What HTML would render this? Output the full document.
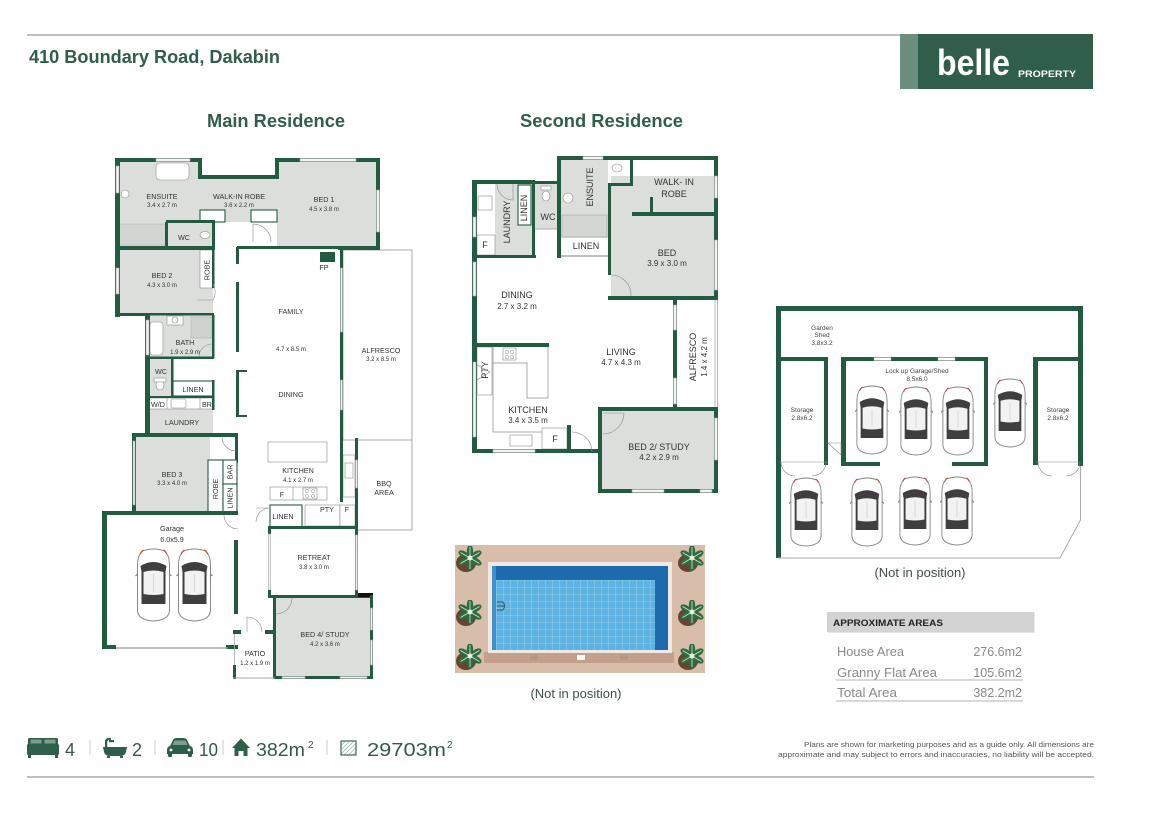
<!DOCTYPE html>
<html><head><meta charset="utf-8">
<style>
html,body{margin:0;padding:0;background:#fff;}
svg{display:block;}
text{font-family:"Liberation Sans",Arial,sans-serif;}
.w{fill:#235b41}
.g{fill:#dcdedc}
.win{fill:#f3f3f3;stroke:#a5a5a5;stroke-width:.6}
.thin{fill:none;stroke:#9a9a9a;stroke-width:.8}
.box{fill:#fff;stroke:#235b41;stroke-width:1.1}
.fx{fill:#fff;stroke:#8c8c8c;stroke-width:.6}
.lb{font-size:7.2px;fill:#333;text-anchor:middle}
.dm{font-size:6px;fill:#333;text-anchor:middle}
.lb2{font-size:9px;fill:#333;text-anchor:middle}
.dm2{font-size:8px;fill:#333;text-anchor:middle}
.pk{font-size:6.5px;fill:#444;text-anchor:middle}
.door{fill:none;stroke:#8a8a8a;stroke-width:.6}
</style></head><body>
<svg width="1151" height="814" viewBox="0 0 1151 814" xmlns="http://www.w3.org/2000/svg">
<defs>
<symbol id="car" viewBox="0 0 36 74">
<path d="M7 3 Q18 -1 29 3 Q34 7 34 18 L34 62 Q34 72 18 73 Q2 72 2 62 L2 18 Q2 7 7 3Z" fill="#fff" stroke="#8a8a8a" stroke-width="1"/>
<path d="M5 18 Q18 10 31 18 L30 24 L30 56 L6 56 L6 24 Z" fill="#3f3f3f"/>
<path d="M8 24 Q18 21 28 24 L28 46 Q18 48 8 46 Z" fill="#f2f2f2"/>
<path d="M8 2 Q6 3 5 6" stroke="#c33" stroke-width="1" fill="none"/>
<path d="M28 2 Q30 3 31 6" stroke="#c33" stroke-width="1" fill="none"/>
<path d="M2 26 L0 28 M34 26 L36 28" stroke="#777" stroke-width="1"/>
<line x1="18" y1="26" x2="18" y2="44" stroke="#bbb" stroke-width=".5"/>
</symbol>
<symbol id="plant" viewBox="0 0 28 28">
<ellipse cx="11" cy="17" rx="10" ry="9" fill="#6a4330"/>
<g fill="#2f6b40">
<ellipse cx="15" cy="5" rx="3.2" ry="6"/>
<ellipse cx="15" cy="5" rx="3.2" ry="6" transform="rotate(60 15 12)"/>
<ellipse cx="15" cy="5" rx="3.2" ry="6" transform="rotate(120 15 12)"/>
<ellipse cx="15" cy="5" rx="3.2" ry="6" transform="rotate(180 15 12)"/>
<ellipse cx="15" cy="5" rx="3.2" ry="6" transform="rotate(240 15 12)"/>
<ellipse cx="15" cy="5" rx="3.2" ry="6" transform="rotate(300 15 12)"/>
</g>
<g stroke="#d6e6d3" stroke-width=".8">
<line x1="15" y1="12" x2="15" y2="1"/><line x1="15" y1="12" x2="24.5" y2="6.5"/><line x1="15" y1="12" x2="24.5" y2="17.5"/>
<line x1="15" y1="12" x2="15" y2="23"/><line x1="15" y1="12" x2="5.5" y2="17.5"/><line x1="15" y1="12" x2="5.5" y2="6.5"/>
</g>
<circle cx="15" cy="12" r="2.5" fill="#e6efe4"/>
</symbol>
<pattern id="tiles" width="7" height="7" patternUnits="userSpaceOnUse"><path d="M7 0V7H0" fill="none" stroke="#c4e6f6" stroke-width=".6"/></pattern>
<pattern id="hatch" width="3" height="3" patternUnits="userSpaceOnUse" patternTransform="rotate(45)"><line x1="0" y1="0" x2="0" y2="3" stroke="#7a9a8a" stroke-width="1"/></pattern>
</defs>

<!-- HEADER -->
<line x1="27" y1="35" x2="900" y2="35" stroke="#9a9a9a" stroke-width="1.2"/>
<text x="29" y="63" font-size="18" font-weight="bold" fill="#2f5e4a" textLength="251" lengthAdjust="spacingAndGlyphs">410 Boundary Road, Dakabin</text>
<rect x="900" y="34" width="193" height="55" fill="#2f5e4a"/>
<rect x="900" y="34" width="18" height="55" fill="#6c8f7d"/>
<text x="937" y="75" font-size="36" font-weight="bold" fill="#fff" textLength="73" lengthAdjust="spacingAndGlyphs">belle</text>
<text x="1018" y="77" font-size="9.5" font-weight="bold" fill="#fff" textLength="58" lengthAdjust="spacingAndGlyphs">PROPERTY</text>

<text x="207" y="127" font-size="18" font-weight="bold" fill="#2f5e4a" textLength="138" lengthAdjust="spacingAndGlyphs">Main Residence</text>
<text x="520" y="127" font-size="18" font-weight="bold" fill="#2f5e4a" textLength="163" lengthAdjust="spacingAndGlyphs">Second Residence</text>

<!-- ================= MAIN RESIDENCE ================= -->
<!-- outdoor areas -->
<rect x="343" y="250" width="69" height="190" fill="#fff" stroke="#aaa" stroke-width="1"/>
<rect x="357" y="440" width="55" height="90" fill="#fff" stroke="#aaa" stroke-width="1"/>
<!-- room fills -->
<rect class="g" x="117" y="160" width="83" height="62"/>
<rect class="g" x="117" y="222" width="96" height="26"/>
<rect class="g" x="200" y="178" width="77" height="44"/>
<rect class="g" x="277" y="160" width="101" height="88"/>
<rect class="g" x="117" y="248" width="96" height="67"/>
<rect class="g" x="147" y="315" width="66" height="43"/>
<rect class="g" x="147" y="358" width="25" height="39"/>
<rect class="g" x="147" y="408" width="66" height="27"/>
<rect class="g" x="135" y="436" width="75" height="77"/>
<rect class="g" x="275" y="597" width="97" height="81"/>
<!-- fixtures -->
<rect class="fx" x="156" y="163" width="33" height="17" rx="4"/>
<circle class="fx" cx="125" cy="194" r="4"/>
<rect x="118" y="224" width="48" height="21" fill="#d2d5d2" stroke="#aaa" stroke-width=".5"/>
<ellipse class="fx" cx="205" cy="235" rx="5" ry="3.5"/>
<rect class="fx" x="150" y="322" width="13" height="33" rx="3"/>
<rect class="fx" x="167" y="316" width="16" height="9"/>
<circle class="fx" cx="175" cy="320" r="3"/>
<rect x="191" y="317" width="21" height="21" fill="#cfd2cf" stroke="#aaa" stroke-width=".5"/>
<ellipse class="fx" cx="160" cy="385" rx="4" ry="5"/>
<rect class="fx" x="154" y="378" width="12" height="4"/>
<rect class="fx" x="200" y="250" width="13" height="38"/>
<rect class="box" x="200" y="210" width="25" height="12"/>
<rect class="box" x="251" y="210" width="26" height="12"/>
<rect class="fx" x="268" y="442" width="59" height="20"/>
<rect class="fx" x="343" y="455" width="12" height="42"/>
<rect class="fx" x="345" y="463" width="8" height="15"/>
<rect class="fx" x="270" y="487" width="57" height="13"/>
<line x1="293" y1="487" x2="293" y2="500" stroke="#8c8c8c" stroke-width=".6"/>
<rect class="fx" x="303" y="488" width="14" height="11"/>
<circle cx="307" cy="491" r="1.6" fill="none" stroke="#888" stroke-width=".5"/><circle cx="313" cy="491" r="1.6" fill="none" stroke="#888" stroke-width=".5"/>
<circle cx="307" cy="496" r="1.6" fill="none" stroke="#888" stroke-width=".5"/><circle cx="313" cy="496" r="1.6" fill="none" stroke="#888" stroke-width=".5"/>
<rect class="box" x="270" y="505" width="32" height="22"/>
<rect class="fx" x="305" y="505" width="35" height="21"/>
<rect class="fx" x="340" y="505" width="15" height="21"/>
<!-- WD row -->
<rect class="fx" x="149" y="398" width="64" height="11"/>
<rect class="fx" x="171" y="399" width="15" height="9" rx="2"/>
<line x1="167" y1="398" x2="167" y2="409" stroke="#8c8c8c" stroke-width=".6"/>
<line x1="200" y1="398" x2="200" y2="409" stroke="#8c8c8c" stroke-width=".6"/>
<rect class="box" x="173" y="381" width="40" height="15"/>
<!-- walls -->
<rect class="w" x="115" y="158" width="5" height="159"/>
<rect class="win" x="116" y="166" width="3" height="27"/>
<rect class="win" x="116" y="268" width="3" height="26"/>
<rect class="w" x="115" y="158" width="87" height="4"/>
<rect class="win" x="156" y="158.5" width="34" height="3"/>
<rect class="w" x="198" y="158" width="4" height="21"/>
<rect class="w" x="198" y="175" width="80" height="4"/>
<rect class="w" x="275" y="158" width="105" height="4"/>
<rect class="win" x="300" y="158.5" width="56" height="3"/>
<rect class="w" x="275" y="158" width="4" height="21"/>
<rect class="w" x="376" y="158" width="4" height="92"/>
<rect class="win" x="376.5" y="190" width="3" height="42"/>
<rect class="w" x="338" y="246" width="42" height="4"/>
<rect class="w" x="237" y="246" width="104" height="3"/>
<rect class="w" x="166" y="220" width="49" height="3"/>
<rect class="w" x="165" y="222" width="3" height="26"/>
<rect class="w" x="212" y="222" width="3" height="26"/>
<path class="door" d="M253 224 L253 242 M253 224 A18 18 0 0 1 271 242"/>
<rect class="w" x="115" y="246" width="100" height="4"/>
<rect class="w" x="212" y="248" width="2.5" height="40"/>
<path class="door" d="M213 300 L197 300 M213 300 A16 16 0 0 0 213 284"/>
<rect class="w" x="115" y="313" width="35" height="3"/>
<rect class="w" x="147" y="313" width="67" height="2.5"/>
<rect class="w" x="145" y="313" width="5" height="124"/>
<rect class="win" x="146" y="320" width="3" height="35"/>
<rect class="w" x="212" y="315" width="2.5" height="43"/>
<path class="door" d="M212 344 A13 13 0 0 0 199 357"/>
<rect class="w" x="147" y="356.5" width="67" height="2.5"/>
<rect class="w" x="171" y="358" width="2.5" height="39"/>
<rect class="w" x="147" y="396" width="67" height="2"/>
<rect class="w" x="212" y="380" width="2.5" height="30"/>
<rect class="w" x="132" y="433" width="106" height="4"/>
<rect class="w" x="132" y="433" width="4" height="80"/>
<rect class="win" x="133" y="441" width="2" height="64"/>
<rect class="w" x="235" y="435" width="3" height="28"/>
<path class="door" d="M222 437 A14 14 0 0 0 236 451"/>
<rect class="box" x="208" y="460" width="15" height="52"/>
<rect class="box" x="223" y="460" width="14" height="24"/>
<rect class="box" x="223" y="484" width="14" height="28"/>
<rect class="w" x="102" y="511" width="136" height="4"/>
<rect class="w" x="102" y="511" width="5" height="138"/>
<rect class="w" x="234" y="540" width="4" height="74"/>
<path class="door" d="M224 515 A14 14 0 0 0 238 529"/>
<rect class="w" x="102" y="645" width="14" height="4"/>
<rect class="w" x="226" y="645" width="12" height="4"/>
<line x1="116" y1="648" x2="228" y2="648" stroke="#999" stroke-width="1.2"/>
<use href="#car" x="135" y="548" width="37" height="74"/>
<use href="#car" x="176" y="548" width="37" height="74"/>
<rect class="w" x="236" y="247" width="3" height="17"/>
<rect class="w" x="236" y="282" width="3" height="70"/>
<rect class="w" x="236" y="370" width="3" height="47"/>
<rect class="w" x="236" y="370" width="11" height="2"/>
<rect class="w" x="236" y="415" width="11" height="2"/>
<rect class="w" x="340" y="249" width="3" height="191"/>
<rect class="win" x="340.5" y="268" width="2" height="64"/>
<rect class="win" x="340.5" y="380" width="2" height="30"/>
<rect class="w" x="320" y="252" width="15" height="10"/>
<rect class="w" x="340" y="440" width="3" height="62"/>
<rect class="w" x="355" y="438" width="3" height="92"/>
<rect class="win" x="355.5" y="460" width="2" height="28"/>
<path class="door" d="M270 508 L256 508 M270 508 A14 14 0 0 0 256 522" />
<rect class="w" x="268" y="526" width="90" height="3"/>
<rect class="w" x="268" y="526" width="3" height="8"/>
<rect class="win" x="268.5" y="534" width="2" height="56"/>
<rect class="w" x="268" y="590" width="3" height="8"/>
<rect class="w" x="355" y="526" width="3" height="72"/>
<rect class="win" x="355.5" y="535" width="2" height="55"/>
<rect class="w" x="268" y="595" width="105" height="3"/>
<rect x="358" y="593" width="15" height="4" fill="#111"/>
<rect class="w" x="273" y="597" width="3" height="82"/>
<path class="door" d="M276 614 A16 16 0 0 0 292 598"/>
<rect class="w" x="370" y="595" width="3" height="84"/>
<rect class="win" x="370.5" y="608" width="2" height="22"/>
<rect class="win" x="370.5" y="640" width="2" height="25"/>
<rect class="w" x="273" y="676" width="100" height="3"/>
<rect class="win" x="282" y="676.5" width="23" height="2"/>
<rect class="win" x="340" y="676.5" width="27" height="2"/>
<rect class="w" x="233" y="630" width="8" height="4"/>
<rect class="w" x="265" y="630" width="10" height="4"/>
<path class="door" d="M247 632 L247 617 A15 15 0 0 1 262 632"/>
<line x1="234.5" y1="634" x2="234.5" y2="665" stroke="#aaa" stroke-width=".8"/>
<rect class="w" x="233" y="665" width="3" height="14"/>
<line x1="233" y1="678" x2="275" y2="678" stroke="#aaa" stroke-width="1"/>
<!-- main labels -->
<text class="lb" x="162" y="199">ENSUITE</text><text class="dm" x="162" y="207">3.4 x 2.7 m</text>
<text class="lb" x="239" y="199">WALK-IN ROBE</text><text class="dm" x="239" y="207">3.6 x 2.2 m</text>
<text class="lb" x="324" y="202">BED 1</text><text class="dm" x="324" y="211">4.5 x 3.8 m</text>
<text class="lb" x="184" y="240">WC</text>
<text class="lb" x="162" y="278">BED 2</text><text class="dm" x="162" y="287">4.3 x 3.0 m</text>
<text class="lb" x="0" y="0" transform="translate(209.5,270) rotate(-90)" font-size="6.5">ROBE</text>
<text class="lb" x="324" y="270">FP</text>
<text class="lb" x="291" y="314">FAMILY</text><text class="dm" x="291" y="351">4.7 x 8.5 m</text>
<text class="lb" x="185" y="345">BATH</text><text class="dm" x="185" y="354">1.9 x 2.9 m</text>
<text class="lb" x="381" y="353">ALFRESCO</text><text class="dm" x="381" y="361">3.2 x 8.5 m</text>
<text class="lb" x="161" y="374">WC</text>
<text class="lb" x="193" y="392">LINEN</text>
<text class="lb" x="158" y="407" font-size="6.5">W/D</text><text class="lb" x="207" y="407" font-size="6.5">BR</text>
<text class="lb" x="291" y="397">DINING</text>
<text class="lb" x="182" y="425">LAUNDRY</text>
<text class="lb" x="172" y="477">BED 3</text><text class="dm" x="172" y="485">3.3 x 4.0 m</text>
<text class="lb" x="0" y="0" transform="translate(218,489) rotate(-90)" font-size="6.5">ROBE</text>
<text class="lb" x="0" y="0" transform="translate(232.5,472) rotate(-90)" font-size="6.5">BAR</text>
<text class="lb" x="0" y="0" transform="translate(232.5,498) rotate(-90)" font-size="6.5">LINEN</text>
<text class="lb" x="298" y="473">KITCHEN</text><text class="dm" x="298" y="482">4.1 x 2.7 m</text>
<text class="lb" x="384" y="486">BBQ</text><text class="lb" x="384" y="495">AREA</text>
<text class="lb" x="282" y="497">F</text>
<text class="lb" x="283" y="519">LINEN</text>
<text class="lb" x="327" y="512">PTY</text><text class="lb" x="347" y="512">F</text>
<text class="lb" x="172" y="531">Garage</text><text class="lb" x="172" y="542">6.0x5.9</text>
<text class="lb" x="314" y="560">RETREAT</text><text class="dm" x="314" y="569">3.8 x 3.0 m</text>
<text class="lb" x="325" y="637">BED 4/ STUDY</text><text class="dm" x="325" y="646">4.2 x 3.6 m</text>
<text class="lb" x="255" y="656">PATIO</text><text class="dm" x="255" y="665">1.2 x 1.9 m</text>

<!-- ================= SECOND RESIDENCE ================= -->
<rect class="g" x="495" y="183" width="38" height="72"/>
<rect class="g" x="535" y="183" width="23" height="46"/>
<rect class="g" x="561" y="160" width="47" height="78"/>
<rect class="g" x="611" y="176" width="103" height="37"/>
<rect class="g" x="611" y="213" width="103" height="84"/>
<rect class="g" x="602" y="411" width="112" height="78"/>
<!-- fixtures -->
<rect x="562" y="215" width="45" height="22" fill="#d3d6d3" stroke="#999" stroke-width=".5"/>
<circle class="fx" cx="568" cy="198" r="5"/>
<ellipse class="fx" cx="617" cy="168" rx="5" ry="4"/>
<ellipse class="fx" cx="546" cy="196" rx="4" ry="5"/>
<rect class="fx" x="541" y="186" width="10" height="4"/>
<rect class="box" x="518" y="185" width="13" height="40"/>
<rect class="fx" x="478" y="196" width="14" height="14"/>
<rect class="fx" x="477" y="235" width="18" height="20"/>
<path class="door" d="M497 184 A16 16 0 0 0 513 200 L513 184"/>
<rect x="561" y="238" width="47" height="18" fill="#fff"/>
<line x1="561" y1="256" x2="608" y2="256" stroke="#aaa" stroke-width="1.5"/>
<rect class="fx" x="477" y="347" width="15" height="48"/>
<path class="door" d="M477 365 L490 372 M477 380 L490 372" />
<path d="M493 347 L493 432 L568 432 M493 363 L527 363 L527 398 L548 398 L548 347" fill="none" stroke="#8c8c8c" stroke-width=".7"/>
<rect class="fx" x="503" y="348" width="13" height="12"/>
<circle cx="507" cy="352" r="1.8" fill="none" stroke="#888" stroke-width=".5"/><circle cx="512" cy="352" r="1.8" fill="none" stroke="#888" stroke-width=".5"/>
<circle cx="507" cy="357" r="1.8" fill="none" stroke="#888" stroke-width=".5"/><circle cx="512" cy="357" r="1.8" fill="none" stroke="#888" stroke-width=".5"/>
<rect class="fx" x="510" y="435" width="22" height="11"/>
<rect class="fx" x="542" y="428" width="25" height="21"/>
<!-- walls -->
<rect class="w" x="472" y="180" width="5" height="273"/>
<rect class="win" x="473" y="217" width="3" height="20"/>
<rect class="win" x="473" y="262" width="3" height="34"/>
<rect class="win" x="473" y="362" width="3" height="75"/>
<rect class="w" x="472" y="180" width="63" height="4"/>
<rect class="w" x="472" y="255" width="64" height="3"/>
<rect class="w" x="532" y="182" width="3" height="76"/>
<rect class="w" x="533" y="181" width="26" height="3"/>
<line x1="535" y1="229" x2="558" y2="229" stroke="#999" stroke-width=".8"/>
<rect class="w" x="557" y="156" width="4" height="102"/>
<rect class="w" x="557" y="156" width="161" height="4"/>
<rect class="win" x="583" y="156.5" width="20" height="3"/>
<rect class="w" x="714" y="156" width="4" height="144"/>
<rect class="win" x="714.5" y="176" width="3" height="22"/>
<rect class="win" x="714.5" y="240" width="3" height="50"/>
<rect class="w" x="630" y="158" width="3" height="27"/>
<rect class="w" x="608" y="183" width="25" height="3"/>
<rect class="w" x="608" y="183" width="3" height="92"/>
<path class="door" d="M611 275 A20 20 0 0 1 631 296"/>
<rect x="633" y="160" width="81" height="16" fill="#fff"/>
<rect class="w" x="632" y="212" width="86" height="4"/>
<rect class="w" x="650" y="197" width="3" height="17"/>
<rect class="w" x="608" y="296" width="110" height="4"/>
<rect class="w" x="673" y="296" width="4" height="114"/>
<rect class="win" x="673.5" y="305" width="3" height="25"/>
<rect class="win" x="673.5" y="378" width="3" height="26"/>
<line x1="715" y1="300" x2="715" y2="407" stroke="#aaa" stroke-width=".8"/>
<line x1="717.5" y1="300" x2="717.5" y2="407" stroke="#aaa" stroke-width=".8"/>
<rect class="w" x="598" y="407" width="120" height="4"/>
<rect class="w" x="598" y="407" width="4" height="86"/>
<rect class="w" x="714" y="407" width="4" height="86"/>
<rect class="win" x="714.5" y="418" width="3" height="42"/>
<rect class="w" x="598" y="489" width="120" height="4"/>
<rect class="win" x="632" y="489.5" width="32" height="3"/>
<rect class="win" x="700" y="489.5" width="12" height="3"/>
<path class="door" d="M603 413 L624 413 A21 21 0 0 1 603 434"/>
<rect class="w" x="472" y="343" width="77" height="4"/>
<rect class="w" x="472" y="449" width="128" height="4"/>
<rect class="win" x="493" y="449.5" width="42" height="3"/>
<rect class="w" x="567" y="425" width="4" height="26"/>
<path class="door" d="M572 432 A20 20 0 0 1 592 452"/>
<!-- second labels -->
<text class="lb2" x="0" y="0" transform="translate(510,222) rotate(-90)">LAUNDRY</text>
<text class="lb2" x="0" y="0" transform="translate(527,208) rotate(-90)" font-size="8">LINEN</text>
<text class="lb2" x="548" y="220">WC</text>
<text class="lb2" x="0" y="0" transform="translate(593,187) rotate(-90)">ENSUITE</text>
<text class="lb2" x="674" y="185">WALK- IN</text><text class="lb2" x="674" y="197">ROBE</text>
<text class="lb2" x="586" y="249">LINEN</text>
<text class="lb2" x="667" y="256">BED</text><text class="dm2" x="667" y="266">3.9 x 3.0 m</text>
<text class="lb2" x="517" y="298">DINING</text><text class="dm2" x="517" y="309">2.7 x 3.2 m</text>
<text class="lb2" x="621" y="355">LIVING</text><text class="dm2" x="621" y="365">4.7 x 4.3 m</text>
<text class="lb2" x="0" y="0" transform="translate(696,357) rotate(-90)">ALFRESCO</text>
<text class="dm2" x="0" y="0" transform="translate(707,357) rotate(-90)">1.4 x 4.2 m</text>
<text class="lb2" x="0" y="0" transform="translate(488,370) rotate(-90)" font-size="8">PTY</text>
<text class="lb2" x="528" y="413">KITCHEN</text><text class="dm2" x="528" y="423">3.4 x 3.5 m</text>
<text class="lb2" x="555" y="442">F</text>
<text class="lb2" x="485" y="248">F</text>
<text class="lb2" x="659" y="450">BED 2/ STUDY</text><text class="dm2" x="659" y="460">4.2 x 2.9 m</text>

<!-- ================= POOL ================= -->
<rect x="455" y="545" width="250" height="128" fill="#d9bdab"/>
<rect x="484" y="652" width="190" height="11" fill="#c3a08c"/>
<rect x="488" y="562" width="184" height="91" fill="#f1e9e3"/>
<rect x="492" y="566" width="176" height="84" fill="#5db3e2"/>
<rect x="492" y="566" width="176" height="84" fill="url(#tiles)"/>
<rect x="492" y="566" width="176" height="14" fill="#1f6aaa"/>
<rect x="655" y="566" width="13" height="84" fill="#1f6aaa"/>
<rect x="492" y="566" width="4" height="84" fill="#3f8fc8"/>
<path d="M497 602 L503 602 Q506 606 503 610 L497 610 M497 606 L504 606" fill="none" stroke="#3a4d6a" stroke-width="1"/>
<rect x="530" y="655" width="8" height="5" fill="#b6968a"/>
<rect x="577" y="655" width="8" height="5" fill="#fff"/>
<rect x="620" y="655" width="8" height="5" fill="#b6968a"/>
<use href="#plant" x="455" y="546" width="28" height="28"/>
<use href="#plant" x="455" y="600" width="28" height="28"/>
<use href="#plant" x="455" y="644" width="28" height="28"/>
<use href="#plant" x="677" y="546" width="28" height="28"/>
<use href="#plant" x="677" y="600" width="28" height="28"/>
<use href="#plant" x="677" y="644" width="28" height="28"/>
<text x="576" y="698" font-size="13" fill="#3f4f48" text-anchor="middle">(Not in position)</text>

<!-- ================= PARKING ================= -->
<rect class="w" x="776" y="306" width="5" height="252"/>
<rect class="w" x="776" y="306" width="307" height="5"/>
<rect class="w" x="1078" y="306" width="5" height="160"/>
<path d="M1080.5 466 L1080.5 520 L1060 558 L778 558" fill="none" stroke="#aaa" stroke-width="1"/>
<rect class="w" x="776" y="357" width="52" height="4"/>
<rect class="w" x="824" y="357" width="4" height="108"/>
<path class="door" d="M779 462 L828 462 M781 462 A14 14 0 0 0 795 476 M826 462 A14 14 0 0 1 812 476" />
<rect class="w" x="841" y="357" width="147" height="4"/>
<rect x="874" y="357.5" width="17" height="3" fill="#fff" stroke="#aaa" stroke-width=".5"/>
<rect x="938" y="357.5" width="17" height="3" fill="#fff" stroke="#aaa" stroke-width=".5"/>
<rect class="w" x="841" y="357" width="5" height="108"/>
<rect class="w" x="984" y="357" width="4" height="108"/>
<rect class="w" x="841" y="462" width="39" height="4"/>
<rect class="w" x="952" y="462" width="36" height="4"/>
<path class="door" d="M828 443 L841 443 L841 455 Z"/>
<rect class="w" x="1033" y="357" width="50" height="4"/>
<rect class="w" x="1033" y="357" width="5" height="108"/>
<path class="door" d="M1036 462 L1080 462 M1038 462 A14 14 0 0 0 1052 476 M1080 462 A14 14 0 0 1 1066 476"/>
<use href="#car" x="855" y="383" width="34" height="74"/>
<use href="#car" x="899" y="386" width="34" height="70"/>
<use href="#car" x="941" y="386" width="34" height="70"/>
<use href="#car" x="993" y="376" width="34" height="74"/>
<use href="#car" x="789" y="475" width="34" height="74"/>
<use href="#car" x="850" y="475" width="34" height="74"/>
<use href="#car" x="898" y="474" width="34" height="74"/>
<use href="#car" x="940" y="474" width="34" height="74"/>
<text class="pk" x="822" y="330">Garden</text><text class="pk" x="822" y="337">Shed</text><text class="pk" x="822" y="345">3.8x3.2</text>
<text class="pk" x="802" y="412">Storage</text><text class="pk" x="802" y="420">2.8x6.2</text>
<text class="pk" x="917" y="373">Lock up Garage/Shed</text><text class="pk" x="917" y="381">8.5x6.0</text>
<text class="pk" x="1058" y="412">Storage</text><text class="pk" x="1058" y="420">2.8x6.2</text>
<text x="920" y="577" font-size="13" fill="#3f4f48" text-anchor="middle">(Not in position)</text>

<!-- ================= AREAS ================= -->
<rect x="828" y="613" width="207" height="20" fill="#e6e6e6"/>
<rect x="827" y="612" width="207" height="20" fill="#d3d3d3"/>
<text x="833" y="626" font-size="9.5" font-weight="bold" fill="#222" textLength="110" lengthAdjust="spacingAndGlyphs">APPROXIMATE AREAS</text>
<text x="837" y="656" font-size="12.5" fill="#8a8a8a" textLength="67" lengthAdjust="spacingAndGlyphs">House Area</text>
<text x="1022" y="656" font-size="12.5" fill="#8a8a8a" text-anchor="end">276.6m2</text>
<text x="837" y="677" font-size="12.5" fill="#8a8a8a" textLength="100" lengthAdjust="spacingAndGlyphs">Granny Flat Area</text>
<text x="1022" y="677" font-size="12.5" fill="#8a8a8a" text-anchor="end">105.6m2</text>
<line x1="836" y1="680" x2="1023" y2="680" stroke="#9a9a9a" stroke-width=".8"/>
<text x="837" y="697" font-size="12.5" fill="#8a8a8a" textLength="60" lengthAdjust="spacingAndGlyphs">Total Area</text>
<text x="1022" y="697" font-size="12.5" fill="#8a8a8a" text-anchor="end">382.2m2</text>
<line x1="836" y1="701" x2="1023" y2="701" stroke="#9a9a9a" stroke-width=".8"/>

<!-- ================= FOOTER ================= -->
<!-- bed icon -->
<g fill="#2f5e4a">
<rect x="27" y="744" width="32" height="11" rx="1.5"/>
<rect x="28" y="738" width="30" height="8" rx="1.5"/>
<rect x="28" y="755" width="3" height="3"/><rect x="55" y="755" width="3" height="3"/>
</g>
<rect x="30.5" y="739.5" width="11" height="4" fill="#7d9e8e"/>
<rect x="44.5" y="739.5" width="11" height="4" fill="#7d9e8e"/>
<text x="65" y="756" font-size="18" fill="#34594a">4</text>
<line x1="90" y1="740" x2="90" y2="755" stroke="#ccc" stroke-width="1"/>
<!-- bath icon -->
<g fill="#2f5e4a">
<path d="M103 747 L127 747 L126 752 Q125 756 120 756 L110 756 Q105 756 104 752 Z"/>
<rect x="105" y="740" width="2.2" height="8"/>
<path d="M105 741 Q106 737 111 738 L111 740 Q108 739 107.2 742 Z"/>
<rect x="109" y="740" width="5" height="2.2"/>
<rect x="107" y="756" width="3" height="2"/><rect x="120" y="756" width="3" height="2"/>
</g>
<text x="132" y="756" font-size="18" fill="#34594a">2</text>
<line x1="155" y1="740" x2="155" y2="755" stroke="#ccc" stroke-width="1"/>
<!-- car icon -->
<g fill="#2f5e4a">
<path d="M170 746 L173 740 Q174 738 177 738 L183 738 Q186 738 187 740 L190 746 Q193 747 193 750 L193 754 L167 754 L167 750 Q167 747 170 746Z"/>
<rect x="168" y="753" width="4" height="4" rx="1"/><rect x="188" y="753" width="4" height="4" rx="1"/>
</g>
<path d="M172.5 745 L174.5 740.5 L185.5 740.5 L187.5 745 Z" fill="#7d9e8e"/>
<circle cx="171" cy="750" r="1.4" fill="#fff"/><circle cx="189" cy="750" r="1.4" fill="#fff"/>
<text x="199" y="756" font-size="18" fill="#34594a" textLength="19" lengthAdjust="spacingAndGlyphs">10</text>
<line x1="223" y1="740" x2="223" y2="755" stroke="#ccc" stroke-width="1"/>
<!-- house icon -->
<path d="M232 748 L241 738.5 L250 748 L247.5 748 L247.5 756 L243.5 756 L243.5 751 L238.5 751 L238.5 756 L234.5 756 L234.5 748 Z" fill="#2f5e4a"/>
<text x="256" y="756" font-size="18" fill="#34594a" textLength="49" lengthAdjust="spacingAndGlyphs">382m</text>
<text x="308" y="748" font-size="10" fill="#34594a">2</text>
<line x1="327" y1="740" x2="327" y2="755" stroke="#ccc" stroke-width="1"/>
<!-- land icon -->
<rect x="341" y="741" width="15" height="14" fill="url(#hatch)" stroke="#3f6656" stroke-width="1.2"/>
<text x="367" y="756" font-size="18" fill="#34594a" textLength="79" lengthAdjust="spacingAndGlyphs">29703m</text>
<text x="447" y="748" font-size="10" fill="#34594a">2</text>

<text x="1094" y="747" font-size="7.5" fill="#555" text-anchor="end" textLength="290" lengthAdjust="spacingAndGlyphs">Plans are shown for marketing purposes and as a guide only. All dimensions are</text>
<text x="1094" y="757" font-size="7.5" fill="#555" text-anchor="end" textLength="316" lengthAdjust="spacingAndGlyphs">approximate and may subject to errors and inaccuracies, no liability will be accepted.</text>
<line x1="27" y1="777" x2="1094" y2="777" stroke="#aaa" stroke-width="1.5"/>
</svg>
</body></html>
